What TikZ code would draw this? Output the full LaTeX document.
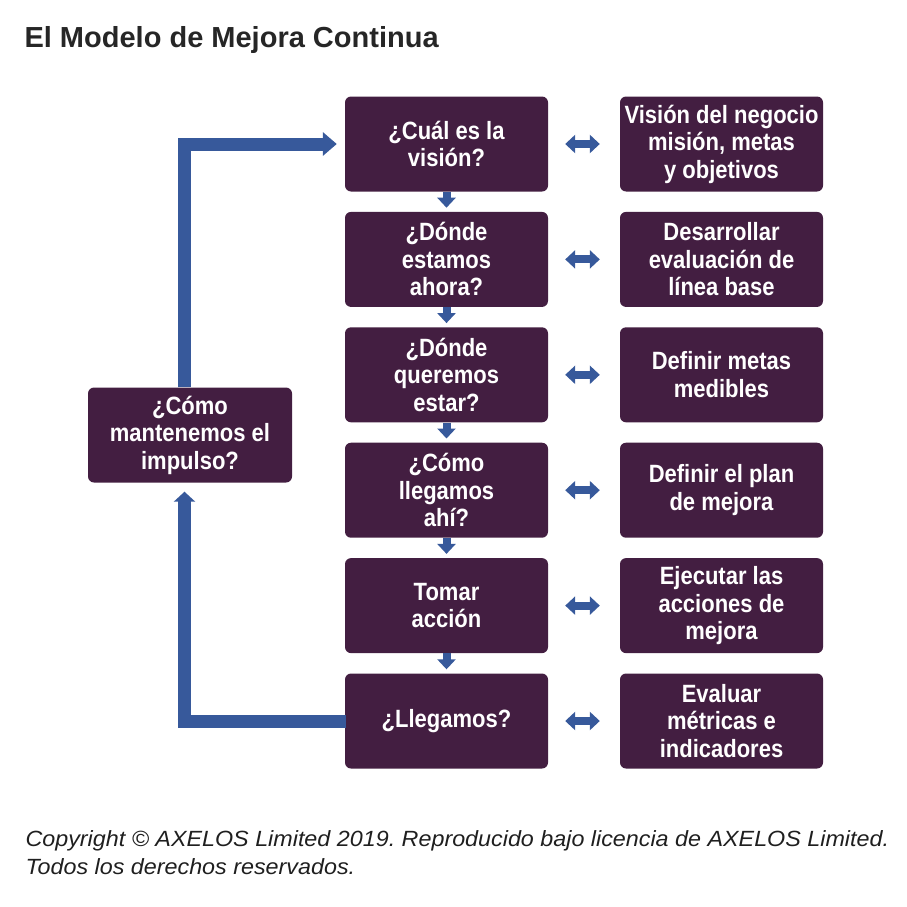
\documentclass[tikz,border=0pt]{standalone}
\usepackage{fontspec}
\setmainfont{Liberation Sans}
\newfontfamily\boxfont[FakeStretch=0.88]{Liberation Sans}
\newfontfamily\copyfont[FakeStretch=1.06]{Liberation Sans}
\usetikzlibrary{arrows.meta}
\frenchspacing
\definecolor{boxpurple}{HTML}{431E41}
\definecolor{arrowblue}{HTML}{37599B}
\tikzset{
  qbox/.style={fill=boxpurple, rounded corners=6pt, minimum width=203pt, minimum height=95pt,
    inner sep=2pt, align=center, text=white, font=\boxfont\bfseries\fontsize{25}{27.5}\selectfont},
  downarrow/.style={draw=arrowblue, line width=8pt, -{Triangle[length=10pt,width=18pt]}, shorten >=4pt},
  dblarrow/.style={draw=arrowblue, line width=8pt, {Triangle[length=10pt,width=18pt]}-{Triangle[length=10pt,width=18pt]}, shorten <=17pt, shorten >=20pt},
  looparrow/.style={draw=arrowblue, line width=13pt},
  copytext/.style={anchor=base west, font=\copyfont\itshape\fontsize{22}{26}\selectfont, text=black!88},
}
\begin{document}
\begin{tikzpicture}[x=1pt,y=-1pt]
\useasboundingbox (0,0) rectangle (906,907);
\node[anchor=base west, font=\bfseries\fontsize{29}{33}\selectfont, text=black!85] (title) at (21,48) {El Modelo de Mejora Continua};

\node[qbox] (n1) at (446.5,144) {¿Cuál es la\\visión?};
\node[qbox] (n2) at (446.5,259.4) {¿Dónde\\estamos\\ahora?};
\node[qbox] (n3) at (446.5,374.8) {¿Dónde\\queremos\\estar?};
\node[qbox] (n4) at (446.5,490.2) {¿Cómo\\llegamos\\ahí?};
\node[qbox] (n5) at (446.5,605.6) {Tomar\\acción};
\node[qbox] (n6) at (446.5,721) {¿Llegamos?};

\node[qbox] (r1) at (721.5,144) {Visión del negocio\\misión, metas\\y objetivos};
\node[qbox] (r2) at (721.5,259.4) {Desarrollar\\evaluación de\\línea base};
\node[qbox] (r3) at (721.5,374.8) {Definir metas\\medibles};
\node[qbox] (r4) at (721.5,490.2) {Definir el plan\\de mejora};
\node[qbox] (r5) at (721.5,605.6) {Ejecutar las\\acciones de\\mejora};
\node[qbox] (r6) at (721.5,721) {Evaluar\\métricas e\\indicadores};

\node[qbox, minimum width=204pt] (left) at (190,435) {¿Cómo\\mantenemos el\\impulso?};

\foreach \a/\b in {n1/n2,n2/n3,n3/n4,n4/n5,n5/n6}{
  \draw[downarrow] (\a.south) -- (\b.north);
}
\foreach \i in {1,...,6}{
  \draw[dblarrow] (n\i.east) -- (r\i.west);
}

\coordinate (ltop) at ([xshift=-5.5pt]left.north);
\coordinate (lbot) at ([xshift=-5.5pt]left.south);
\draw[looparrow, -{Triangle[length=14pt,width=23pt]}, shorten >=8pt] (ltop) |- (n1.west);
\draw[looparrow, -{Triangle[length=10pt,width=21pt]}, shorten >=9pt] ([xshift=1pt]n6.west) -| (lbot);

\node[copytext] (copy1) at (22,846) {Copyright © AXELOS Limited 2019. Reproducido bajo licencia de AXELOS Limited.};
\node[copytext] (copy2) at (22,874) {Todos los derechos reservados.};
\end{tikzpicture}
\end{document}
